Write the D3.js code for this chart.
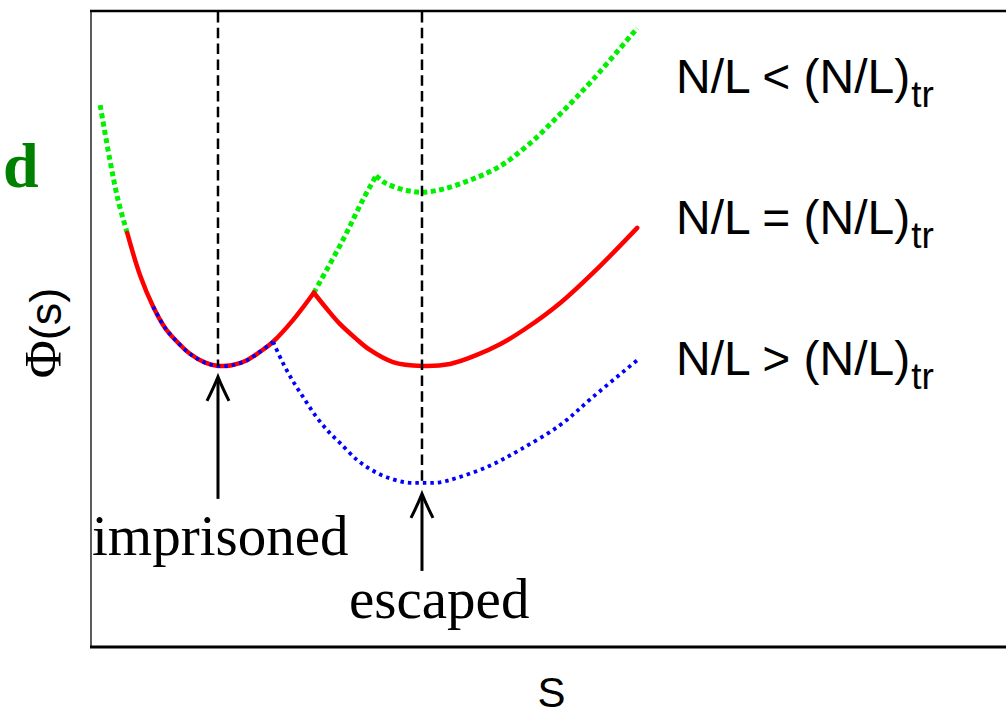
<!DOCTYPE html>
<html>
<head>
<meta charset="utf-8">
<script src="https://cdn.jsdelivr.net/npm/d3@7"></script>
<style>
  body { margin: 0; background: #fff; }
</style>
</head>
<body>
<svg id="chart" width="1006" height="715"></svg>
<script>
// imprisoned well, shared by all three curves
const wellS   = [0.18, 0.37, 0.53, 0.71, 0.96, 1.22, 1.45, 1.65, 1.94, 2.24, 2.49, 2.76, 3.06, 3.31, 3.57, 3.96, 4.37, 4.94, 5.33, 5.59];
const wellPhi = [8.52, 7.66, 7.03, 6.51, 5.85, 5.35, 5.02, 4.83, 4.61, 4.47, 4.42, 4.43, 4.51, 4.64, 4.80, 5.14, 5.57, 6.40, 7.03, 7.41];

// escaped branches, one per N/L
const greenS   = [5.59, 5.76, 6.00, 6.25, 6.49, 6.90, 7.43, 8.02, 8.61, 9.20, 9.84, 10.71];
const greenPhi = [7.41, 7.30, 7.22, 7.17, 7.15, 7.20, 7.34, 7.56, 7.92, 8.38, 8.92, 9.73];

const redS   = [4.37, 4.59, 4.88, 5.18, 5.47, 5.92, 6.49, 7.04, 7.53, 8.02, 8.51, 9.20, 9.98, 10.71];
const redPhi = [5.57, 5.35, 5.08, 4.86, 4.67, 4.48, 4.42, 4.45, 4.58, 4.76, 5.00, 5.41, 5.99, 6.59];

const blueS   = [3.57, 3.76, 3.96, 4.16, 4.39, 4.63, 4.88, 5.22, 5.51, 5.80, 6.16, 6.51, 6.84, 7.18, 7.82, 8.41, 9.20, 9.84, 10.71];
const bluePhi = [4.80, 4.47, 4.18, 3.93, 3.65, 3.41, 3.21, 2.94, 2.78, 2.67, 2.59, 2.58, 2.59, 2.66, 2.85, 3.10, 3.49, 3.93, 4.51];

// parts of the well each curve follows
const greenWellRanges = [[0.18, 0.71], [4.37, 5.59]];
const redWellRanges = [[0.71, 4.37]];
const blueWellRanges = [[1.22, 3.57]];

// the two minima that are marked
const minimaS = [2.49, 6.49];
const minimaPhi = [4.42, 2.58];
const minimaLabels = ['imprisoned', 'escaped'];

const legendLabels = ['N/L < (N/L)', 'N/L = (N/L)', 'N/L > (N/L)'];
const legendSub = 'tr';

const margin = { left: 91, top: 11, bottom: 68 };
const width = 1006;
const height = 715;

const svg = d3.select('#chart');

const x = d3.scaleLinear().domain([0, 18]).range([margin.left, margin.left + 18 * 51]);
const y = d3.scaleLinear().domain([0, 10]).range([height - margin.bottom, margin.top]);

const zip = (s, phi) => s.map((v, i) => ({ s: v, phi: phi[i] }));
const well = zip(wellS, wellPhi);
const cut = (ranges) => ranges.map(([a, b]) => well.filter((d) => d.s >= a - 1e-9 && d.s <= b + 1e-9));

const line = d3
  .line()
  .x((d) => x(d.s))
  .y((d) => y(d.phi))
  .curve(d3.curveCatmullRom.alpha(0.5));

// frame
svg.append('line')
  .attr('x1', x(0)).attr('x2', x(0))
  .attr('y1', y(10)).attr('y2', y(0))
  .attr('stroke', '#333').attr('stroke-width', 1.6);
svg.append('line')
  .attr('x1', x(0) - 1).attr('x2', width + 10)
  .attr('y1', y(10)).attr('y2', y(10))
  .attr('stroke', '#000').attr('stroke-width', 2.5);
svg.append('line')
  .attr('x1', x(0) - 1).attr('x2', width + 10)
  .attr('y1', y(0)).attr('y2', y(0))
  .attr('stroke', '#000').attr('stroke-width', 3);

// curves: green under red, blue dotted on top
const curves = [
  { segs: [...cut(greenWellRanges), zip(greenS, greenPhi)], color: '#00f000', width: 5, dash: '5,3.4' },
  { segs: [...cut(redWellRanges), zip(redS, redPhi)], color: '#ff0000', width: 4.5, dash: null },
  { segs: [...cut(blueWellRanges), zip(blueS, bluePhi)], color: '#0000ff', width: 3.8, dash: '3.5,4' },
];

curves.forEach((c) => {
  svg.append('g')
    .selectAll('path')
    .data(c.segs)
    .enter()
    .append('path')
    .attr('d', line)
    .attr('fill', 'none')
    .attr('stroke', c.color)
    .attr('stroke-width', c.width)
    .attr('stroke-dasharray', c.dash)
    .attr('stroke-linecap', c.dash ? 'butt' : 'round');
});

// dashed markers at the minima
svg.append('g')
  .selectAll('line')
  .data(minimaS)
  .enter()
  .append('line')
  .attr('x1', (d) => x(d)).attr('x2', (d) => x(d))
  .attr('y1', y(10) + 1)
  .attr('y2', (d, i) => y(minimaPhi[i]))
  .attr('stroke', '#000')
  .attr('stroke-width', 2.5)
  .attr('stroke-dasharray', '10.5,5.3');

// arrows and their labels
const arrowLen = [122, 77];
const labelX = [92, 349];
const labelY = [555, 618];
minimaS.forEach((s, i) => {
  const ax = x(s);
  const tip = y(minimaPhi[i]) + 11;
  svg.append('path')
    .attr('d', `M${ax},${tip + arrowLen[i]} L${ax},${tip + 2}`)
    .attr('stroke', '#000').attr('stroke-width', 3).attr('fill', 'none');
  svg.append('path')
    .attr('d', `M${ax - 11},${tip + 24} Q${ax - 4},${tip + 10} ${ax},${tip} Q${ax + 4},${tip + 10} ${ax + 11},${tip + 24}`)
    .attr('stroke', '#000').attr('stroke-width', 3).attr('fill', 'none');
  svg.append('text')
    .attr('x', labelX[i]).attr('y', labelY[i])
    .attr('font-family', '"Liberation Serif", "Times New Roman", serif')
    .attr('font-size', 57)
    .text(minimaLabels[i]);
});

// legend text
const legend = svg.append('g')
  .selectAll('text')
  .data(legendLabels)
  .enter()
  .append('text')
  .attr('x', 676)
  .attr('y', (d, i) => 93 + i * 141)
  .attr('font-family', '"Liberation Sans", Arial, sans-serif')
  .attr('font-size', 48)
  .attr('fill', '#000');
legend.append('tspan').text((d) => d);
legend.append('tspan').attr('font-size', 37).attr('dy', 14).attr('dx', 1).text(legendSub);

// axis titles
svg.append('text')
  .attr('x', x(0) + (width - x(0)) / 2 + 3)
  .attr('y', 707)
  .attr('text-anchor', 'middle')
  .attr('font-family', '"Liberation Sans", Arial, sans-serif')
  .attr('font-size', 42)
  .text('S');

const yTitle = svg.append('text')
  .attr('transform', 'translate(61,333) rotate(-90)')
  .attr('text-anchor', 'middle');
yTitle.append('tspan')
  .attr('font-family', '"Liberation Serif", "Times New Roman", serif')
  .attr('font-size', 52)
  .text('Φ');
yTitle.append('tspan')
  .attr('font-family', '"Liberation Sans", Arial, sans-serif')
  .attr('font-size', 45)
  .text('(s)');

// panel letter
svg.append('text')
  .attr('x', 3).attr('y', 187)
  .attr('font-family', '"Liberation Serif", "Times New Roman", serif')
  .attr('font-weight', 'bold')
  .attr('font-size', 64)
  .attr('fill', '#008000')
  .text('d');
</script>
</body>
</html>
